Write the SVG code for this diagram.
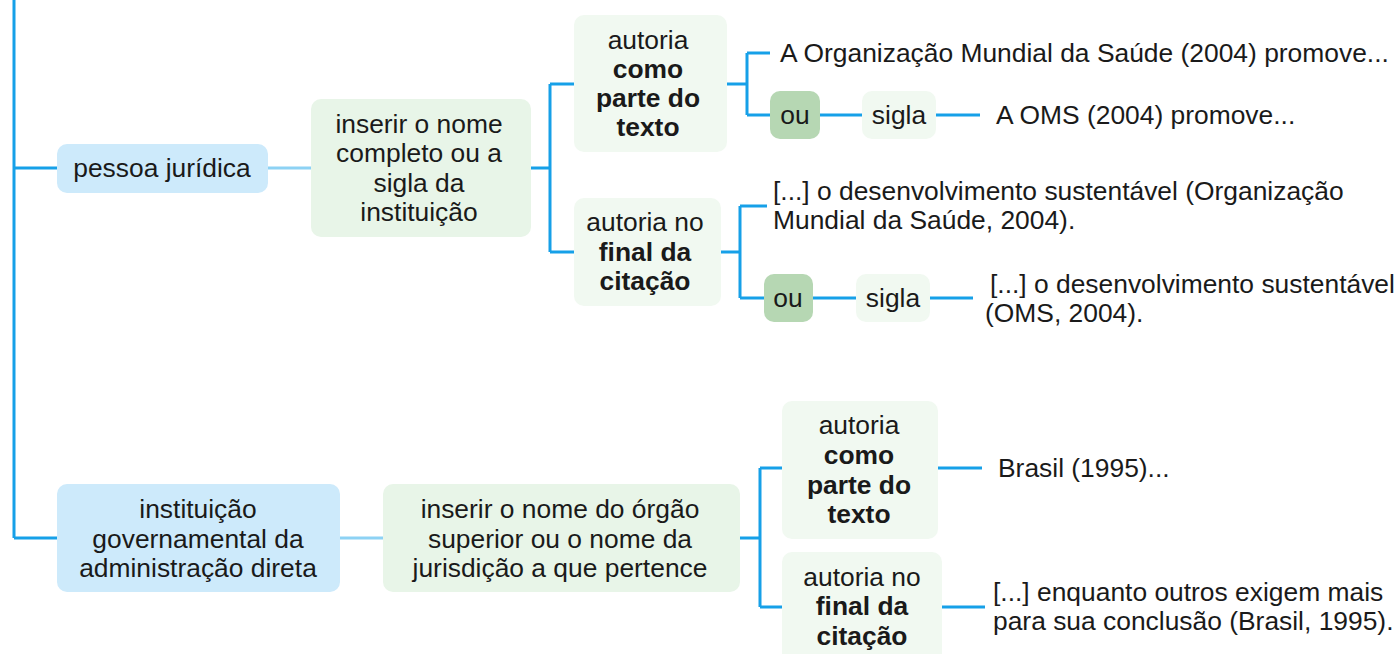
<svg xmlns="http://www.w3.org/2000/svg" width="1399" height="654" viewBox="0 0 1399 654">
<style>
text{font-family:"Liberation Sans",Arial,sans-serif;font-size:26.4px;fill:#1a1a1a}
.m{text-anchor:middle}
.b{font-weight:bold}
.blue{fill:#cdeafb}
.g1{fill:#e8f5e8}
.g2{fill:#f1f9f1}
.ou{fill:#b6d7b3}
.c{fill:none;stroke:#16a0e8;stroke-width:3}
.cl{fill:none;stroke:#8dd2f4;stroke-width:3}
</style>
<g id="connectors">
<path class="c" d="M14 0V538M14 168H57M14 538H57"/>
<path class="cl" d="M268 168H311M340 538H383"/>
<path class="c" d="M531 168H550M550 84V252M550 84H574M550 252H574"/>
<path class="c" d="M727 84H747M747 53V115M747 53H770M747 115H770M820 115H862M936 115H980"/>
<path class="c" d="M721 252H740M740 206V298M740 206H767M740 298H764M813 298H856M930 298H973"/>
<path class="c" d="M740 538H760M760 468V607M760 468H782M760 607H782M938 468H982M942 607H985"/>
</g>
<g id="n-pj"><rect class="blue" x="57" y="144" width="211" height="49" rx="10"/><text class="m" x="162" y="177">pessoa jurídica</text></g>
<g id="n-ins1"><rect class="g1" x="311" y="99" width="220" height="138" rx="10"/>
<text class="m" x="419" y="133">inserir o nome</text><text class="m" x="419" y="162">completo ou a</text><text class="m" x="419" y="192">sigla da</text><text class="m" x="419" y="221">instituição</text></g>
<g id="n-a1"><rect class="g2" x="574" y="15" width="153" height="137" rx="10"/>
<text class="m" x="648" y="49">autoria</text><text class="m b" x="648" y="78">como</text><text class="m b" x="648" y="107">parte do</text><text class="m b" x="648" y="136">texto</text></g>
<g id="n-t1"><text x="780" y="62">A Organização Mundial da Saúde (2004) promove...</text></g>
<g id="n-ou1"><rect class="ou" x="770" y="91" width="50" height="48" rx="10"/><text class="m" x="795" y="124">ou</text></g>
<g id="n-s1"><rect class="g2" x="862" y="91" width="74" height="48" rx="10"/><text class="m" x="899" y="124">sigla</text></g>
<g id="n-t2"><text x="996" y="124">A OMS (2004) promove...</text></g>
<g id="n-a2"><rect class="g2" x="574" y="198" width="147" height="108" rx="10"/>
<text class="m" x="645" y="231">autoria no</text><text class="m b" x="645" y="261">final da</text><text class="m b" x="645" y="290">citação</text></g>
<g id="n-t3"><text x="773" y="200">[...] o desenvolvimento sustentável (Organização</text><text x="773" y="229">Mundial da Saúde, 2004).</text></g>
<g id="n-ou2"><rect class="ou" x="764" y="274" width="49" height="48" rx="10"/><text class="m" x="788" y="307">ou</text></g>
<g id="n-s2"><rect class="g2" x="856" y="274" width="74" height="48" rx="10"/><text class="m" x="893" y="307">sigla</text></g>
<g id="n-t4"><text x="990" y="293">[...] o desenvolvimento sustentável</text><text x="985" y="322">(OMS, 2004).</text></g>
<g id="n-inst"><rect class="blue" x="57" y="484" width="283" height="108" rx="10"/>
<text class="m" x="198" y="518">instituição</text><text class="m" x="198" y="548">governamental da</text><text class="m" x="198" y="577">administração direta</text></g>
<g id="n-ins2"><rect class="g1" x="383" y="484" width="357" height="108" rx="10"/>
<text class="m" x="560" y="518">inserir o nome do órgão</text><text class="m" x="560" y="548">superior ou o nome da</text><text class="m" x="560" y="577">jurisdição a que pertence</text></g>
<g id="n-a3"><rect class="g2" x="782" y="401" width="156" height="138" rx="10"/>
<text class="m" x="859" y="434">autoria</text><text class="m b" x="859" y="464">como</text><text class="m b" x="859" y="494">parte do</text><text class="m b" x="859" y="523">texto</text></g>
<g id="n-t5"><text x="998" y="477">Brasil (1995)...</text></g>
<g id="n-a4"><rect class="g2" x="782" y="552" width="160" height="112" rx="10"/>
<text class="m" x="862" y="586">autoria no</text><text class="m b" x="862" y="615">final da</text><text class="m b" x="862" y="645">citação</text></g>
<g id="n-t6"><text x="993" y="601">[...] enquanto outros exigem mais</text><text x="993" y="630">para sua conclusão (Brasil, 1995).</text></g>
</svg>
